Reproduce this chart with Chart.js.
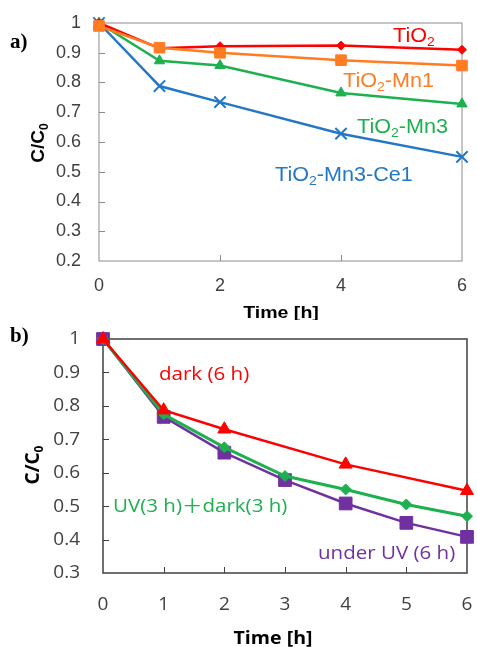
<!DOCTYPE html>
<html>
<head>
<meta charset="utf-8">
<script src="https://cdn.jsdelivr.net/npm/chart.js@4.4.0/dist/chart.umd.min.js"></script>
<style>
  html, body { margin: 0; padding: 0; background: #fff; }
  #wrap { position: relative; width: 477px; height: 647px; }
  canvas { position: absolute; left: 0; }
  #chartA { top: 0; }
  #chartB { top: 320px; }
</style>
</head>
<body>
<div id="wrap">
  <canvas id="chartA" width="477" height="320"></canvas>
  <canvas id="chartB" width="477" height="327"></canvas>
</div>
<script>
// Panel a) data
const timeA = [0, 1, 2, 4, 6];
const tio2 = [1.0, 0.915, 0.922, 0.924, 0.91];
const tio2Mn1 = [0.99, 0.917, 0.9, 0.875, 0.857];
const tio2Mn3 = [1.0, 0.873, 0.857, 0.765, 0.728];
const tio2Mn3Ce1 = [1.0, 0.788, 0.734, 0.628, 0.55];
const xTicksA = [0, 2, 4, 6];

// Panel b) data
const timeDark = [0, 1, 2, 4, 6];
const dark6h = [1.0, 0.787, 0.73, 0.625, 0.546];
const timeB = [0, 1, 2, 3, 4, 5, 6];
const uvDark = [1.0, 0.775, 0.676, 0.59, 0.55, 0.505, 0.47];
const underUv = [1.0, 0.767, 0.66, 0.578, 0.508, 0.45, 0.408];
const xTicksB = [0, 1, 2, 3, 4, 5, 6];

const RED = '#ff0000';
const ORANGE = '#ff7c22';
const GREEN = '#1db04f';
const BLUE = '#2477c6';
const PURPLE = '#7030a0';

// Helpers
function toPoints(xs, ys) {
  return xs.map((x, i) => ({ x: x, y: ys[i] }));
}

function fmtTick(v) {
  return String(Number(v.toFixed(1)));
}

function partFont(p, size, family, weight) {
  const fs = p.sub ? Math.round(size * 0.65) : size;
  return `${weight} ${fs}px ${p.family || family}`;
}

function measureRich(ctx, parts, size, family, weight) {
  let w = 0;
  parts.forEach(p => {
    ctx.font = partFont(p, size, family, weight);
    w += ctx.measureText(p.t).width;
  });
  return w;
}

function drawRich(ctx, parts, x, y, opt) {
  const size = opt.size, family = opt.family, weight = opt.weight || 'normal';
  ctx.save();
  ctx.translate(x, y);
  if (opt.rotate) ctx.rotate(opt.rotate);
  ctx.scale(opt.sx || 1, 1);
  ctx.fillStyle = opt.color;
  ctx.textBaseline = 'alphabetic';
  ctx.textAlign = 'left';
  let cx = 0;
  if (opt.center) cx = -measureRich(ctx, parts, size, family, weight) / 2;
  const dy = opt.dy || 0;
  parts.forEach(p => {
    ctx.font = partFont(p, size, family, weight);
    ctx.fillText(p.t, cx, dy + (p.sub ? size * 0.22 : 0) + (p.dy || 0));
    cx += ctx.measureText(p.t).width;
  });
  ctx.restore();
}

// Box, inner tick marks and text labels
function makeDecor(cfg) {
  return {
    id: 'decor',
    beforeDatasetsDraw(chart) {
      const ctx = chart.ctx;
      const a = chart.chartArea;
      const xs = chart.scales.x, ys = chart.scales.y;
      ctx.save();
      ctx.strokeStyle = cfg.boxColor;
      ctx.lineWidth = cfg.boxWidth;
      ctx.strokeRect(a.left, a.top, a.right - a.left, a.bottom - a.top);
      ctx.beginPath();
      ys.ticks.forEach(t => {
        if (t.value <= ys.min + 1e-6 || t.value >= ys.max - 1e-6) return;
        const py = Math.round(ys.getPixelForValue(t.value)) + 0.5;
        ctx.moveTo(a.left, py);
        ctx.lineTo(a.left + 6, py);
      });
      xs.ticks.forEach(t => {
        if (t.value <= xs.min || t.value >= xs.max) return;
        const px = Math.round(xs.getPixelForValue(t.value)) + 0.5;
        ctx.moveTo(px, a.bottom);
        ctx.lineTo(px, a.bottom - 6);
      });
      ctx.lineWidth = 1;
      ctx.stroke();
      ctx.restore();
    },
    afterDraw(chart) {
      const ctx = chart.ctx;
      // panel letter
      ctx.save();
      ctx.font = 'bold 21px "Liberation Serif"';
      ctx.fillStyle = '#000';
      ctx.textBaseline = 'alphabetic';
      ctx.fillText(cfg.letter, 10, cfg.letterY);
      ctx.restore();
      // axis titles
      drawRich(ctx, [{ t: 'Time [h]' }], cfg.xTitle[0], cfg.xTitle[1],
        { size: 17, family: cfg.titleFamily, weight: 'bold', color: '#000', center: true, sx: 1.15 });
      drawRich(ctx, [{ t: 'C/C' }, { t: '0', sub: true }], cfg.yTitle[0], cfg.yTitle[1],
        { size: 19, family: cfg.titleFamily, weight: 'bold', color: '#000', center: true, rotate: -Math.PI / 2, dy: 7 });
      // series labels
      cfg.labels.forEach(l => {
        drawRich(ctx, l.parts, l.x, l.y, { size: cfg.labelSize, family: cfg.labelFamily, color: l.color, sx: 1.08 });
      });
    }
  };
}

function baseScales(o) {
  return {
    x: {
      type: 'linear', min: 0, max: 6,
      afterBuildTicks: s => { s.ticks = o.xTicks.map(v => ({ value: v })); },
      ticks: { padding: o.xPad, color: '#404040', font: { family: o.tickFamily, size: o.tickSize } },
      grid: { display: false, drawTicks: false },
      border: { display: false },
      afterFit: s => { s.height = o.xHeight; s.paddingLeft = 0; s.paddingRight = 0; }
    },
    y: {
      min: o.yMin, max: 1,
      ticks: { stepSize: 0.1, padding: o.yPad, color: '#404040', callback: fmtTick,
               font: { family: o.tickFamily, size: o.tickSize } },
      grid: { display: false, drawTicks: false },
      border: { display: false },
      afterFit: s => { s.width = o.yWidth; s.paddingTop = 0; s.paddingBottom = 0; }
    }
  };
}

function series(label, xs, ys, color, style, radius, order, width) {
  return {
    label: label,
    data: toPoints(xs, ys),
    borderColor: color,
    backgroundColor: color,
    borderWidth: width || 2.5,
    pointStyle: style,
    pointRadius: radius,
    pointBackgroundColor: color,
    pointBorderColor: color,
    pointBorderWidth: style === 'crossRot' ? 2 : 1,
    tension: 0,
    clip: false,
    order: order
  };
}

const sub = (a, b, c) => [{ t: a }, { t: b, sub: true }, { t: c }];

// Panel a
new Chart(document.getElementById('chartA'), {
  type: 'line',
  data: {
    datasets: [
      series('TiO2-Mn1', timeA, tio2Mn1, ORANGE, 'rect', 7.5, 1),
      series('TiO2', timeA, tio2, RED, 'rectRot', 4.5, 2),
      series('TiO2-Mn3', timeA, tio2Mn3, GREEN, 'triangle', 6, 3),
      series('TiO2-Mn3-Ce1', timeA, tio2Mn3Ce1, BLUE, 'crossRot', 8, 4)
    ]
  },
  options: {
    responsive: false,
    animation: false,
    layout: { padding: { top: 23, right: 15, left: 0, bottom: 0 } },
    plugins: { legend: { display: false }, tooltip: { enabled: false } },
    scales: baseScales({ xTicks: xTicksA, xPad: 14, xHeight: 59, yMin: 0.2, yPad: 18, yWidth: 99,
                         tickFamily: '"Liberation Sans", Arial', tickSize: 18 })
  },
  plugins: [makeDecor({
    boxColor: '#8c8c8c', boxWidth: 1,
    letter: 'a)', letterY: 48,
    titleFamily: '"Liberation Sans", Arial',
    xTitle: [281, 318], yTitle: [37, 143],
    labelFamily: '"Liberation Sans", Arial', labelSize: 20,
    labels: [
      { parts: sub('TiO', '2', ''), x: 393, y: 42, color: RED },
      { parts: sub('TiO', '2', '-Mn1'), x: 343, y: 87, color: ORANGE },
      { parts: sub('TiO', '2', '-Mn3'), x: 357, y: 133, color: GREEN },
      { parts: sub('TiO', '2', '-Mn3-Ce1'), x: 275, y: 181, color: BLUE }
    ]
  })]
});

// Panel b
new Chart(document.getElementById('chartB'), {
  type: 'line',
  data: {
    datasets: [
      series('dark (6 h)', timeDark, dark6h, RED, 'triangle', 7.5, 1),
      series('UV(3 h)+dark(3 h)', timeB, uvDark, GREEN, 'rectRot', 5.5, 2, 3),
      series('under UV (6 h)', timeB, underUv, PURPLE, 'rect', 9, 3)
    ]
  },
  options: {
    responsive: false,
    animation: false,
    layout: { padding: { top: 19, right: 8, left: 0, bottom: 0 } },
    plugins: { legend: { display: false }, tooltip: { enabled: false } },
    scales: baseScales({ xTicks: xTicksB, xPad: 20, xHeight: 74, yMin: 0.3, yPad: 23, yWidth: 103,
                         tickFamily: '"Open Sans"', tickSize: 19 })
  },
  plugins: [makeDecor({
    boxColor: '#404040', boxWidth: 1.5,
    letter: 'b)', letterY: 22,
    titleFamily: '"Open Sans"',
    xTitle: [273, 324], yTitle: [32, 145],
    labelFamily: '"Open Sans"', labelSize: 19,
    labels: [
      { parts: [{ t: 'dark (6 h)' }], x: 159, y: 60, color: RED },
      { parts: [{ t: 'UV(3 h)' }, { t: '＋', family: '"Noto Sans CJK JP"', dy: 1 }, { t: 'dark(3 h)' }],
        x: 113, y: 192, color: GREEN },
      { parts: [{ t: 'under UV (6 h)' }], x: 318, y: 239, color: PURPLE }
    ]
  })]
});
</script>
</body>
</html>
